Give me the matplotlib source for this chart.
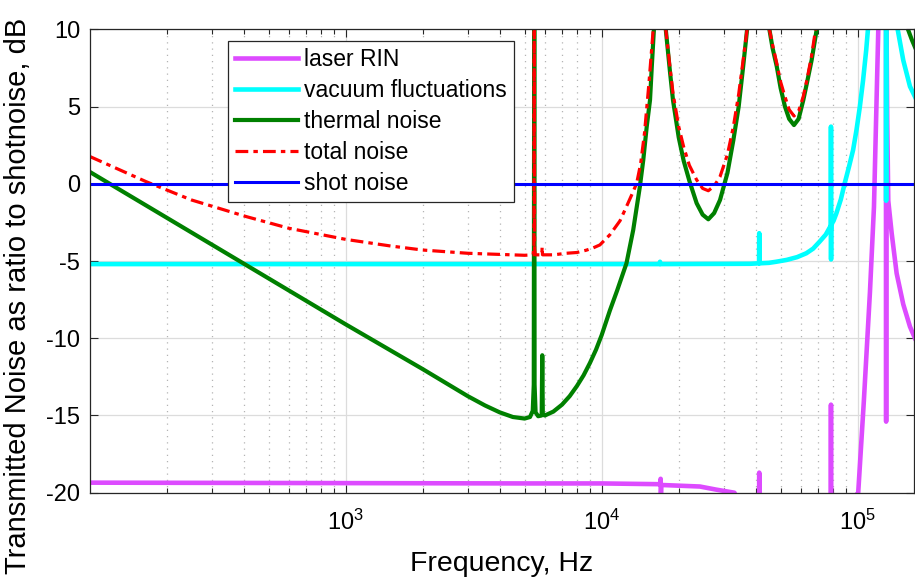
import numpy as np
import matplotlib.pyplot as plt
from matplotlib.ticker import LogLocator, NullFormatter

plt.rcParams['font.family'] = ['Liberation Sans', 'DejaVu Sans']
plt.rcParams['axes.unicode_minus'] = False

# values (frequency in Hz, level in dB re shot noise)
rin_f = [100.3, 5000, 10000, 16950, 17000, 17040, 17100, 24200, 28000, 33000, 34500,
         41200, 41260, 41320, 78600, 78660, 78720, 100500, 105700, 111700, 115800,
         120400, 121500, 129100, 129200, 129300, 130500, 131700, 135800, 142000,
         150700, 160100, 167400]
rin_db = [-19.35, -19.4, -19.4, -19.45, -19.1, -20.3, -19.5, -19.6, -19.8, -20.0, -20.6,
          -22, -18.7, -22, -22, -14.3, -22, -20.0, -14.1, -7.0, -1.5,
          10.0, 13, 13, -15.4, 13, 4.0, -1.1, -3.2, -5.8,
          -7.8, -9.25, -10.0]

vac_f = [100.3, 16850, 16900, 16950, 38000, 41200, 41260, 41320, 45000, 48000, 52800,
         58000, 63000, 67000, 71000, 75000, 78000, 78600, 78660, 78720, 78800, 80500,
         82600, 86000, 89000, 92500, 96000, 99000, 102000, 105000, 108000, 109700,
         111000, 129100, 129200, 129300, 142000, 143300, 150700, 160100, 167400]
vac_db = [-5.2, -5.2, -5.05, -5.2, -5.18, -5.15, -3.2, -5.15, -5.12, -5.05, -4.93,
          -4.75, -4.5, -4.2, -3.75, -3.3, -2.8, -2.95, 3.7, -4.9, -2.65, -2.4,
          -1.91, -1.0, 0.03, 1.1, 2.19, 3.5, 4.99, 6.7, 8.66, 10.0,
          13, 13, -1.1, 13, 11, 10.0, 8.0, 6.3, 5.64]

th_f = [100.3, 1000, 2000, 3000, 3500, 4000, 4500, 5000, 5250, 5380, 5430, 5454,
        5470, 5520, 5650, 5830, 5861, 5890, 6000, 6475, 7000, 7500, 8000, 8500,
        9000, 9500, 10000, 10770, 11500, 12500, 13280, 14100, 14540, 15000, 15450,
        15700, 16000, 16400, 17500, 17800, 18500, 19000, 20000, 20900, 22000,
        23500, 24800, 26100, 27500, 29000, 31000, 32700, 34300, 35700, 37000,
        38500, 44000, 45200, 46500, 48300, 50000, 52000, 54000, 56400, 58800,
        61300, 63500, 66100, 69200, 71000, 155000, 157200, 163000, 167400]
th_db = [0.76, -9.1, -12.0, -13.75, -14.35, -14.8, -15.1, -15.2, -15.1, -14.7, -13.0, 13,
         -13.0, -14.8, -15.05, -15.0, -11.1, -14.95, -15.0, -14.75, -14.3, -13.75, -13.1, -12.4,
         -11.6, -10.75, -9.8, -8.2, -6.9, -5.15, -3.0, -0.19, 1.54, 3.7, 5.42,
         7.6, 10.0, 13, 13, 10.0, 7.2, 5.4, 3.0, 1.5, 0.2,
         -1.26, -2.0, -2.3, -1.9, -1.05, 0.7, 2.83, 5.0, 7.58, 10.0,
         13, 13, 10.0, 8.8, 7.6, 6.2, 5.0, 4.2, 3.8, 4.2,
         5.4, 6.6, 8.0, 10.0, 13, 13, 10.0, 9.3, 8.85]

tot_f = [100.3, 166, 250, 410, 600, 1000, 1500, 2000, 3000, 5000, 5400, 5440, 5454,
         5470, 5500, 5840, 5855, 5875, 6500, 7260, 8000, 8710, 9270, 9840, 10770,
         11100, 11790, 12500, 13280, 13700, 14200, 14700, 15300, 15900, 16400,
         17500, 17800, 18500, 19000, 20000, 20900, 22000, 23500, 24800, 26100,
         27500, 29000, 31000, 32700, 34300, 35700, 37000, 38500, 44000, 45200,
         46500, 48300, 50000, 52000, 54000, 56400, 58800, 61300, 63500, 66100,
         68500, 70000]
tot_db = [1.76, 0.14, -1.05, -2.13, -2.88, -3.6, -4.03, -4.29, -4.5, -4.63, -4.6, -4.0, 13,
          -4.2, -4.6, -4.6, -4.1, -4.6, -4.6, -4.5, -4.45, -4.3, -4.15, -3.96, -3.3,
          -3.0, -2.4, -1.48, -0.5, 0.03, 1.3, 3.27, 6.5, 10.0, 13,
          13, 10.0, 7.5, 5.85, 3.7, 2.4, 1.2, 0.25, -0.3, -0.45,
          -0.15, 0.46, 1.9, 3.7, 5.8, 8.0, 10.0, 13, 13, 10.0,
          9.0, 7.8, 6.6, 5.64, 4.8, 4.39, 4.7, 5.64, 6.8, 8.3,
          10.0, 13]

shot_f = [100.3, 167400]
shot_db = [0, 0]

fig = plt.figure(figsize=(9.15, 5.83), dpi=100)
ax = fig.add_axes([90 / 915, 90.3 / 583, 824 / 915, 463.4 / 583])
ax.set_xscale('log')

ax.plot(rin_f, rin_db, color='#dd4bff', lw=3.3, label='laser RIN')
ax.plot(vac_f, vac_db, color='#00ffff', lw=3.3, label='vacuum fluctuations')
ax.plot(th_f, th_db, color='#008000', lw=3.0, label='thermal noise')
ax.plot(tot_f, tot_db, color='#ff0000', lw=2.3, ls=(0, (4, 1.6, 1.4, 1.6)), label='total noise')
ax.plot(shot_f, shot_db, color='#0000ff', lw=2.2, label='shot noise')

ax.set_xlim(100.3, 1.66e5)
ax.set_ylim(-20, 10)
ax.set_yticks(np.arange(-20, 11, 5))
ax.xaxis.set_major_locator(LogLocator(base=10))
ax.xaxis.set_minor_locator(LogLocator(base=10, subs=np.arange(2, 10)))
ax.xaxis.set_minor_formatter(NullFormatter())

ax.grid(True, which='major', color='#dcdcdc', lw=0.9, ls='-')
ax.grid(True, which='minor', axis='x', color='#b4b4b4', lw=0.9, ls=(0, (1, 4)))
ax.set_axisbelow(True)

ax.tick_params(which='both', direction='in', top=True, right=True, colors='#262626',
               labelcolor='black')
ax.tick_params(which='major', length=6, width=0.8, labelsize=17)
ax.tick_params(axis='y', which='major', pad=7)
ax.tick_params(axis='x', which='major', pad=12)
ax.tick_params(which='minor', length=3.5, width=0.8)
for sp in ax.spines.values():
    sp.set_color('#262626')
    sp.set_linewidth(0.9)

ax.set_xlabel('Frequency, Hz', fontsize=20.5)
ax.set_ylabel('Transmitted Noise as ratio to shotnoise, dB', fontsize=21)
ax.xaxis.set_label_coords(0.5, -0.125)
ax.yaxis.set_label_coords(-0.07, 0.424)

leg = ax.legend(loc='upper left', bbox_to_anchor=(0.1676, 0.975), fontsize=16.5,
                frameon=True, fancybox=False, framealpha=1, edgecolor='#262626',
                handlelength=2.75, handletextpad=0.26, labelspacing=0.35,
                borderpad=0.3, borderaxespad=0)
leg.get_frame().set_linewidth(0.9)

fig.savefig('out.png', dpi=100)
